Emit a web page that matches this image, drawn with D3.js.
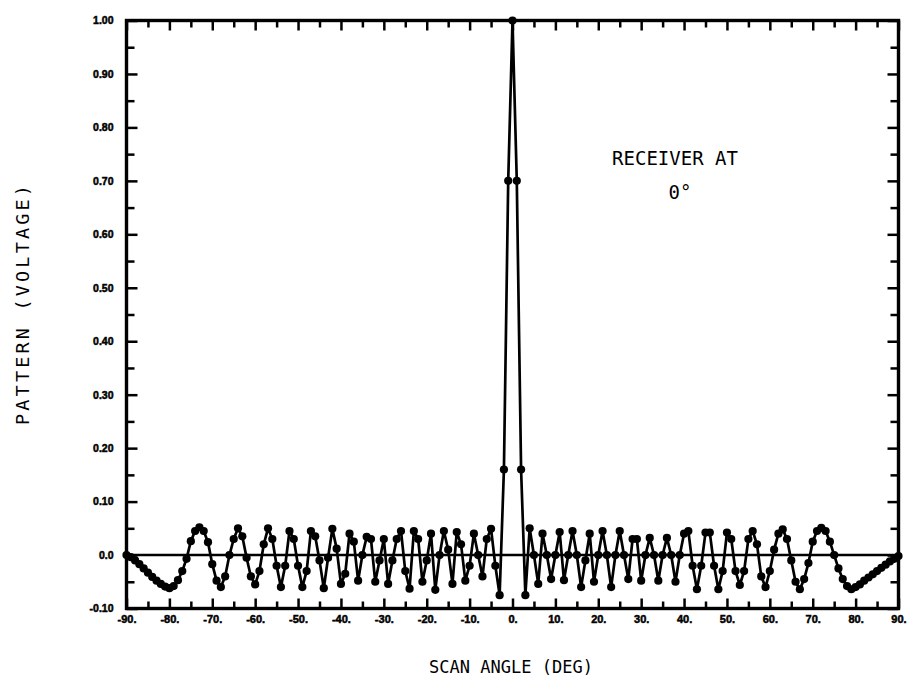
<!DOCTYPE html>
<html><head><meta charset="utf-8">
<script src="https://cdn.jsdelivr.net/npm/d3@7"></script>
<style>
html,body{margin:0;padding:0;background:#fff;}
svg{display:block;}
</style>
</head><body>
<svg id="chart" width="916" height="686"></svg>
<script>
// Scan angle samples (deg), one per degree from -90 to 90
const angles = d3.range(-90, 91, 1);
// Pattern (voltage), -90 .. 90
const pattern = [
  0.000, -0.004, -0.010, -0.017, -0.025, -0.033, -0.041, -0.048, -0.054, -0.059,
 -0.062, -0.058, -0.047, -0.030, -0.007,  0.026,  0.045,  0.052,  0.045,  0.024,
 -0.017, -0.048, -0.060, -0.040,  0.000,  0.030,  0.050,  0.035, -0.005, -0.040,
 -0.055, -0.030,  0.020,  0.050,  0.030, -0.020, -0.060, -0.020,  0.045,  0.030,
 -0.020, -0.060, -0.030,  0.045,  0.035, -0.010, -0.062, -0.005,  0.049,  0.012,
 -0.054, -0.035,  0.040,  0.025, -0.048,  0.000,  0.034,  0.030, -0.050, -0.010,
  0.030, -0.054, -0.010,  0.030,  0.045, -0.030, -0.063,  0.045,  0.030, -0.050,
 -0.010,  0.040, -0.065,  0.000,  0.045,  0.010, -0.054,  0.043,  0.020, -0.048,
 -0.020,  0.040,  0.000, -0.040,  0.030,  0.049, -0.020, -0.075,  0.160,  0.700,
  1.000,
  0.700,  0.160, -0.075,  0.050,  0.000, -0.054,  0.040,  0.000, -0.045,  0.000,
  0.043, -0.047,  0.000,  0.045,  0.000, -0.060, -0.010,  0.040, -0.050,  0.000,
  0.045,  0.000, -0.060,  0.000,  0.045,  0.000, -0.045,  0.030,  0.030, -0.048,
  0.000,  0.032,  0.000, -0.048,  0.000,  0.032,  0.000, -0.050,  0.000,  0.040,
  0.045, -0.020, -0.064, -0.020,  0.042,  0.042, -0.020, -0.064, -0.030,  0.042,
  0.030, -0.030, -0.056, -0.030,  0.030,  0.045,  0.020, -0.040, -0.060, -0.030,
  0.010,  0.040,  0.048,  0.030, -0.010, -0.050, -0.064, -0.045, -0.015,  0.025,
  0.045,  0.051,  0.045,  0.025,  0.000, -0.025, -0.045, -0.058, -0.064, -0.060,
 -0.055, -0.048, -0.042, -0.036, -0.030, -0.024, -0.018, -0.012, -0.007, -0.002
];
const xMajorTicks = [-90,-80,-70,-60,-50,-40,-30,-20,-10,0,10,20,30,40,50,60,70,80,90];
const xTickLabels = ["-90.","-80.","-70.","-60.","-50.","-40.","-30.","-20.","-10.","0.","10.","20.","30.","40.","50.","60.","70.","80.","90."];
const xMinorTicks = [-85,-75,-65,-55,-45,-35,-25,-15,-5,5,15,25,35,45,55,65,75,85];
const yMajorTicks = [-0.1,0,0.1,0.2,0.3,0.4,0.5,0.6,0.7,0.8,0.9,1.0];
const yTickLabels = ["-0.10","0.0","0.10","0.20","0.30","0.40","0.50","0.60","0.70","0.80","0.90","1.00"];
const yMinorTicks = [-0.05,0.05,0.15,0.25,0.35,0.45,0.55,0.65,0.75,0.85,0.95];
const xTitle = "SCAN ANGLE (DEG)";
const yTitle = "PATTERN (VOLTAGE)";
const noteLines = ["RECEIVER AT", "0°"];

const svg = d3.select("#chart");
const L = 126.5, R = 898.5, T = 20.5, B = 608.5;
const x = d3.scaleLinear().domain([-90, 90]).range([L, R]);
const y = d3.scaleLinear().domain([-0.1, 1.0]).range([B, T]);

const tickFont = "Liberation Sans, Arial, sans-serif";

function styleAxis(g, size){
  g.select(".domain").remove();
  g.selectAll(".tick line").attr("stroke","#000").attr("stroke-width",2.5);
  g.selectAll(".tick text").attr("font-family",tickFont).attr("font-weight","bold")
    .attr("font-size",size || 10.5).attr("fill","#000").attr("stroke","#000").attr("stroke-width",0.5);
}

// bottom axis
svg.append("g").attr("transform",`translate(0,${B})`)
  .call(d3.axisBottom(x).tickValues(xMajorTicks).tickSize(-10).tickPadding(7)
    .tickFormat((d,i)=>xTickLabels[i])).call(g=>styleAxis(g,11));
svg.append("g").attr("transform",`translate(0,${B})`)
  .call(d3.axisBottom(x).tickValues(xMinorTicks).tickSize(-7).tickFormat("")).call(styleAxis);
// top axis
svg.append("g").attr("transform",`translate(0,${T})`)
  .call(d3.axisTop(x).tickValues(xMajorTicks).tickSize(-10).tickFormat("")).call(styleAxis);
svg.append("g").attr("transform",`translate(0,${T})`)
  .call(d3.axisTop(x).tickValues(xMinorTicks).tickSize(-7).tickFormat("")).call(styleAxis);
// left axis
svg.append("g").attr("transform",`translate(${L},0)`)
  .call(d3.axisLeft(y).tickValues(yMajorTicks).tickSize(-11).tickPadding(13)
    .tickFormat((d,i)=>yTickLabels[i])).call(g=>styleAxis(g,10.5));
svg.append("g").attr("transform",`translate(${L},0)`)
  .call(d3.axisLeft(y).tickValues(yMinorTicks).tickSize(-8).tickFormat("")).call(styleAxis);
// right axis
svg.append("g").attr("transform",`translate(${R},0)`)
  .call(d3.axisRight(y).tickValues(yMajorTicks).tickSize(-11).tickFormat("")).call(styleAxis);
svg.append("g").attr("transform",`translate(${R},0)`)
  .call(d3.axisRight(y).tickValues(yMinorTicks).tickSize(-8).tickFormat("")).call(styleAxis);

// frame
svg.append("rect").attr("x",L).attr("y",T).attr("width",R-L).attr("height",B-T)
  .attr("fill","none").attr("stroke","#000").attr("stroke-width",3.4);

// zero line
svg.append("line").attr("x1",L).attr("x2",R+3).attr("y1",y(0)).attr("y2",y(0))
  .attr("stroke","#000").attr("stroke-width",2.4);

const pts = angles.map((a,i)=>({a, v: pattern[i]}));
svg.append("path").datum(pts)
  .attr("d", d3.line().x(d=>x(d.a)).y(d=>y(d.v)))
  .attr("fill","none").attr("stroke","#000").attr("stroke-width",2.7)
  .attr("stroke-linejoin","round");
svg.append("g").selectAll("circle").data(pts).join("circle")
  .attr("cx",d=>x(d.a)).attr("cy",d=>y(d.v)).attr("r",4.1).attr("fill","#000");

// titles
const titleFont = "DejaVu Sans Mono, monospace";
svg.append("text").attr("x",511).attr("y",673).attr("text-anchor","middle")
  .attr("font-family",titleFont).attr("font-size",17).attr("fill","#000").text(xTitle);
svg.append("text").attr("transform","translate(29,305) rotate(-90)").attr("text-anchor","middle")
  .attr("font-family",titleFont).attr("font-size",18.5).attr("fill","#000")
  .attr("textLength",240).attr("lengthAdjust","spacing").text(yTitle);

svg.append("text").attr("x",675).attr("y",165).attr("text-anchor","middle")
  .attr("font-family",titleFont).attr("font-size",19).attr("fill","#000").text(noteLines[0]);
svg.append("text").attr("x",680).attr("y",199).attr("text-anchor","middle")
  .attr("font-family",titleFont).attr("font-size",19).attr("fill","#000").text(noteLines[1]);
</script>
</body></html>
